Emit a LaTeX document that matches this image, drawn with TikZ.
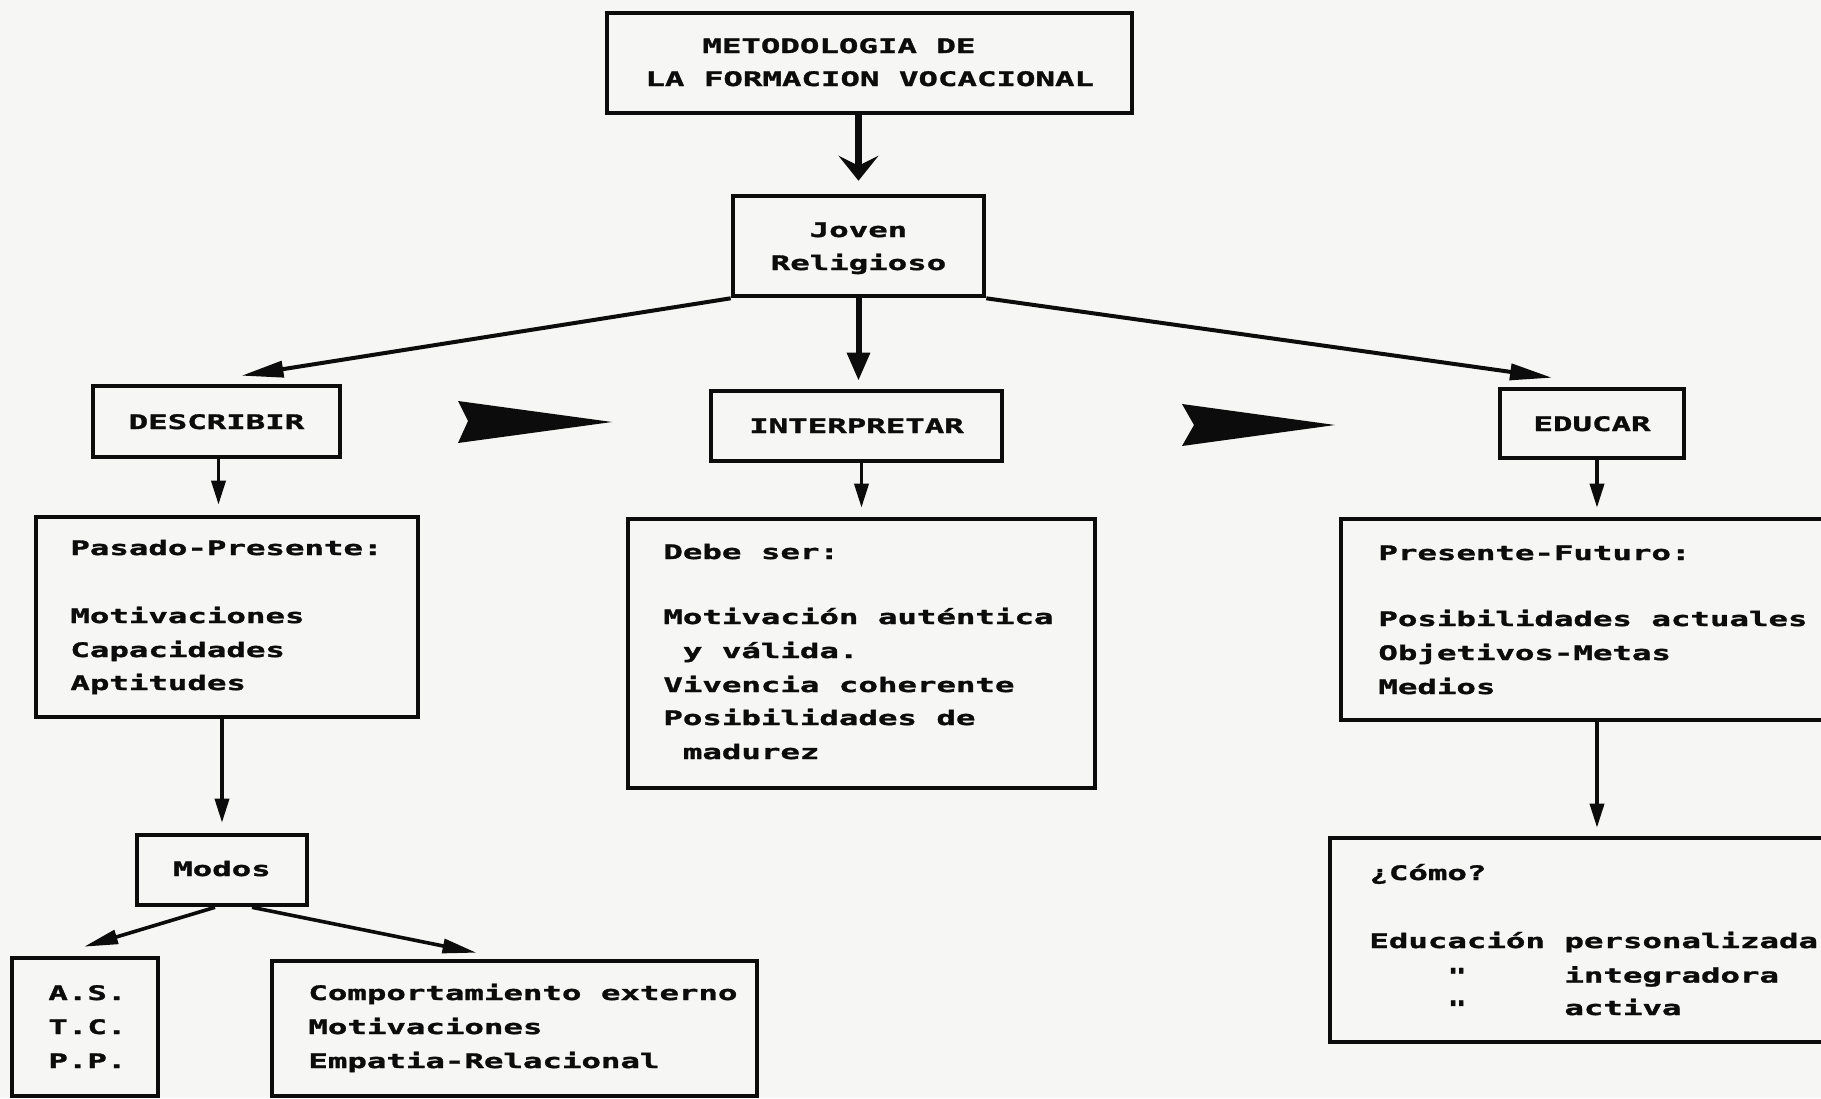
\documentclass[tikz,border=0pt]{standalone}
\usepackage{fontspec}
\setmonofont{DejaVu Sans Mono}[FakeStretch=1.62, BoldFeatures={FakeBold=1.6}]
\usetikzlibrary{arrows.meta,fit,calc}
\definecolor{paper}{RGB}{246,246,244}
\definecolor{ink}{RGB}{12,12,12}
\newcommand\blank[1]{\hspace*{#1\fontcharwd\font`x}}
\begin{document}
\begin{tikzpicture}[x=0.5pt,y=-0.5pt,
  box/.style={draw=ink, line width=2.3pt, inner sep=0pt},
  txt/.style={font=\ttfamily\bfseries\fontsize{10}{16.8}\selectfont, text=ink, inner sep=0pt, anchor=base west},
  ctxt/.style={txt, anchor=base},
  heavy/.style={draw=ink, line width=3.5pt, -{Stealth[length=12.5pt,width=20pt,inset=5pt]}},
  medium/.style={draw=ink, line width=3pt, -{Triangle[length=14pt,width=11pt]}},
  diag/.style={draw=ink, line width=2pt, -{Triangle[length=21pt,width=8pt]}},
  thin/.style={draw=ink, line width=1.8pt, -{Triangle[length=12pt,width=7pt]}},
  modarrow/.style={draw=ink, line width=1.8pt, -{Triangle[length=17pt,width=7pt]}},
  bighead/.style={fill=ink}]
\useasboundingbox (0,0) rectangle (1821,1098);
\fill[paper] (0,0) rectangle (1821,1098);
\clip (0,0) rectangle (1821,1098);

% boxes
\node[box, fit={(607,13) (1132,113)}] (top) {};
\node[box, fit={(733,196) (984,296)}] (joven) {};
\node[box, fit={(93,386) (340,457)}] (describir) {};
\node[box, fit={(711,391) (1002,461)}] (interp) {};
\node[box, fit={(1500,389) (1684,458)}] (educar) {};
\node[box, fit={(36,517) (418,717)}] (pasado) {};
\node[box, fit={(628,519) (1095,788)}] (debe) {};
\node[box, fit={(1341,519) (1840,720)}] (pf) {};
\node[box, fit={(137,835) (307,905)}] (modos) {};
\node[box, fit={(1330,838) (1840,1042)}] (como) {};
\node[box, fit={(12,958) (158,1096)}] (as) {};
\node[box, fit={(272,961) (757,1096)}] (comp) {};

% texts
\node[txt] (t1a) at (702,53) {METODOLOGIA DE};
\node[txt] (t1b) at (645,86) {LA FORMACION VOCACIONAL};
\node[ctxt] (t2a) at (858.5,237) {Joven};
\node[ctxt] (t2b) at (858.5,270) {Religioso};
\node[ctxt] (t3) at (216.5,429) {DESCRIBIR};
\node[ctxt] (t4) at (856.5,433) {INTERPRETAR};
\node[ctxt] (t5) at (1592,431) {EDUCAR};

\node[txt] (p1) at (70,555) {Pasado-Presente:};
\node[txt] (p2) at (70,623) {Motivaciones};
\node[txt] (p3) at (70,657) {Capacidades};
\node[txt] (p4) at (70,690) {Aptitudes};

\node[txt] (d1) at (663,559) {Debe ser:};
\node[txt] (d2) at (663,624) {Motivación auténtica};
\node[txt] (d3) at (682.5,658) {y válida.};
\node[txt] (d4) at (663,692) {Vivencia coherente};
\node[txt] (d5) at (663,725) {Posibilidades de};
\node[txt] (d6) at (682.5,759) {madurez};

\node[txt] (f1) at (1378,560) {Presente-Futuro:};
\node[txt] (f2) at (1378,626) {Posibilidades actuales};
\node[txt] (f3) at (1378,660) {Objetivos-Metas};
\node[txt] (f4) at (1378,694) {Medios};

\node[ctxt] (m1) at (222,876) {Modos};

\node[txt] (c1) at (1369,880) {¿Cómo?};
\node[txt] (c2) at (1369,948) {Educación personalizada};
\node[txt] (c3) at (1447,982.5) {"\blank{5}integradora};
\node[txt] (c4) at (1447,1015) {"\blank{5}activa};

\node[txt] (a1) at (48,1000) {A.S.};
\node[txt] (a2) at (48,1034) {T.C.};
\node[txt] (a3) at (48,1068) {P.P.};

\node[txt] (k1) at (308,1000) {Comportamiento externo};
\node[txt] (k2) at (308,1034) {Motivaciones};
\node[txt] (k3) at (308,1068) {Empatia-Relacional};

% connectors
\draw[heavy, shorten >=6.5pt] (joven.north |- top.south) -- (joven.north);
\draw[medium, shorten >=4pt] (joven.south) -- (joven.south |- interp.north);
\draw[diag] (joven.south west) -- ([shift={(25,-8)}]describir.north);
\draw[diag] (joven.south east) -- ([shift={(-40,-9)}]educar.north);
\draw[thin, shorten >=5pt] ([shift={(2,0)}]describir.south) -- ([shift={(2,0)}]describir.south |- pasado.north);
\draw[thin, shorten >=4.5pt] ([shift={(5,0)}]interp.south) -- ([shift={(5,0)}]interp.south |- debe.north);
\draw[thin, shorten >=4.5pt] ([shift={(5,0)}]educar.south) -- ([shift={(5,0)}]educar.south |- pf.north);
\draw[thin, shorten >=4pt] ([shift={(5,0)}]educar.south |- pf.south) -- ([shift={(5,0)}]educar.south |- como.north);
\draw[thin, shorten >=5pt] (modos.north |- pasado.south) -- (modos.north);
\draw[modarrow] ([shift={(-7,0)}]modos.south) -- ([shift={(-1,-9)}]as.north);
\draw[modarrow] ([shift={(30,0)}]modos.south) -- ([shift={(-38,-6)}]comp.north);

% big decorative arrowheads
\fill[bighead] (458,401) -- (612,422) -- (458,443) -- (468,421) -- cycle;
\fill[bighead] (1182,404) -- (1335,425) -- (1182,446) -- (1194,425) -- cycle;
\end{tikzpicture}
\end{document}
